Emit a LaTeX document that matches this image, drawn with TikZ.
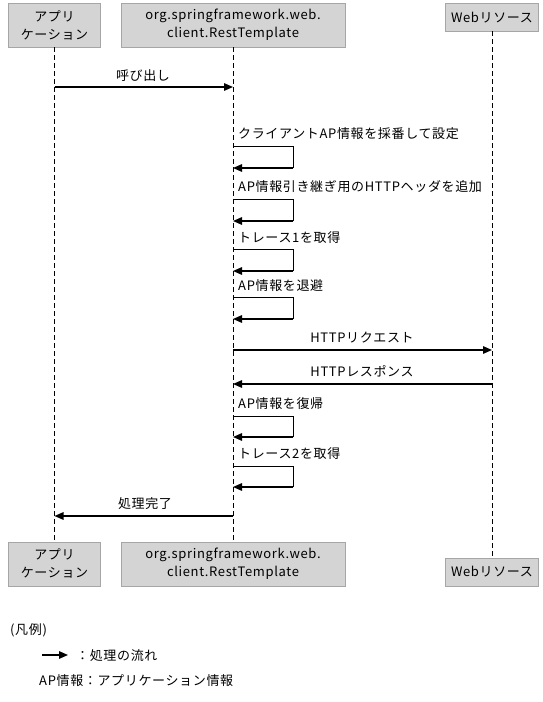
\documentclass[tikz,border=0pt]{standalone}
\usepackage{fontspec}
\setmainfont{Noto Sans CJK JP}[LetterSpace=5]
\usetikzlibrary{arrows.meta}

\begin{document}
\begin{tikzpicture}[x=1pt,y=-1pt,%
% common options for the object boxes:
obj/.style = {draw=black!35, fill=black!17, align=center, anchor=north,
            minimum height=44pt, inner sep=0, font=\fontsize{13}{18}\selectfont},
% common options for the lifelines:
life/.style = {dash pattern=on 5pt off 3pt, line width=0.8pt},
% common options for the messages:
msg/.style = {-{Triangle[length=9pt,width=7.5pt]}, line width=1.4pt},
selfln/.style = {line width=0.8pt},
lbl/.style = {inner sep=0, anchor=base, font=\fontsize{13}{18}\selectfont}]
\useasboundingbox (0,0) rectangle (543,702);
% objects, top and bottom
\node[obj, minimum width=92pt] (appT) at (54.5,3) {アプリ\\ケーション};
\node[obj, minimum width=224pt] (rtT) at (233,3) {org.springframework.web.\\client.RestTemplate};
\node[obj, minimum width=93pt, minimum height=28pt] (webT) at (492,3) {Webリソース};
\node[obj, minimum width=92pt, anchor=south] (appB) at (54.5,586) {アプリ\\ケーション};
\node[obj, minimum width=224pt, anchor=south] (rtB) at (233,586) {org.springframework.web.\\client.RestTemplate};
\node[obj, minimum width=93pt, minimum height=28pt, anchor=south] (webB) at (492,586) {Webリソース};
\draw[life] (appT.south) -- (appB.north);
\draw[life] (rtT.south) -- (rtB.north);
\draw[life] (webT.south) -- (webB.north);
% calls
\coordinate (m1) at (0,87);
\node[lbl] (l1) at (143,80) {呼び出し};
\draw[msg] (appT.south |- m1) -- (rtT.south |- m1);
\coordinate (s1) at (293,146);
\node[lbl, anchor=base west] (l2) at (238,138) {クライアントAP情報を採番して設定};
\draw[selfln] (rtT.south |- s1) -- (s1) -- ++(0,22) coordinate (s1b);
\draw[msg] (s1b) -- (rtT.south |- s1b);
\coordinate (s2) at (293,199);
\node[lbl, anchor=base west] (l3) at (238,191) {AP情報引き継ぎ用のHTTPヘッダを追加};
\draw[selfln] (rtT.south |- s2) -- (s2) -- ++(0,22) coordinate (s2b);
\draw[msg] (s2b) -- (rtT.south |- s2b);
\coordinate (s3) at (293,249);
\node[lbl, anchor=base west] (l4) at (238,242) {トレース1を取得};
\draw[selfln] (rtT.south |- s3) -- (s3) -- ++(0,22) coordinate (s3b);
\draw[msg] (s3b) -- (rtT.south |- s3b);
\coordinate (s4) at (293,297);
\node[lbl, anchor=base west] (l5) at (238,290) {AP情報を退避};
\draw[selfln] (rtT.south |- s4) -- (s4) -- ++(0,22) coordinate (s4b);
\draw[msg] (s4b) -- (rtT.south |- s4b);
\coordinate (m2) at (0,350);
\node[lbl] (l6) at (362,342) {HTTPリクエスト};
\draw[msg] (rtT.south |- m2) -- (webT.south |- m2);
\coordinate (m3) at (0,384);
\node[lbl] (l7) at (362,376) {HTTPレスポンス};
\draw[msg] (webT.south |- m3) -- (rtT.south |- m3);
\coordinate (s5) at (293,416);
\node[lbl, anchor=base west] (l8) at (238,408) {AP情報を復帰};
\draw[selfln] (rtT.south |- s5) -- (s5) -- ++(0,21) coordinate (s5b);
\draw[msg] (s5b) -- (rtT.south |- s5b);
\coordinate (s6) at (293,466);
\node[lbl, anchor=base west] (l9) at (238,458) {トレース2を取得};
\draw[selfln] (rtT.south |- s6) -- (s6) -- ++(0,21) coordinate (s6b);
\draw[msg] (s6b) -- (rtT.south |- s6b);
\coordinate (m4) at (0,516);
\node[lbl] (l10) at (145,508) {処理完了};
\draw[msg] (rtT.south |- m4) -- (appT.south |- m4);
% legend
\node[lbl, anchor=base west] (lg1) at (10,634) {(凡例)};
\coordinate (lgA) at (42,655);
\coordinate (lgB) at (68,655);
\draw[msg] (lgA) -- (lgB);
\node[lbl, anchor=base west] (lg2) at (76,660) {：処理の流れ};
\node[lbl, anchor=base west] (lg3) at (39,685) {AP情報：アプリケーション情報};
\end{tikzpicture}
\end{document}
